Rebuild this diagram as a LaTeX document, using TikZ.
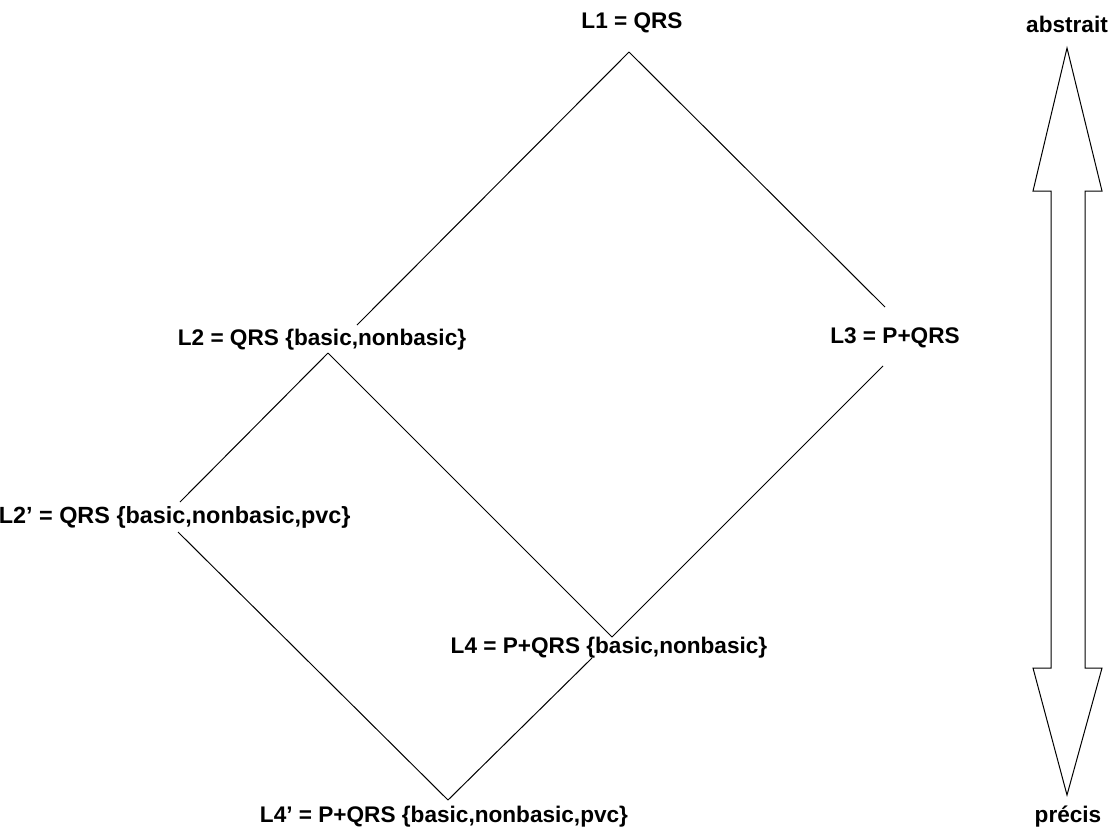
\documentclass[tikz,border=0pt]{standalone}
\usepackage{fontspec}
\setmainfont{Liberation Sans}
\begin{document}
\begin{tikzpicture}[x=0.5pt,y=-0.5pt,
  lbl/.style={font=\bfseries\fontsize{11.3}{13}\selectfont, inner sep=0pt, anchor=base},
  widelbl/.style={lbl, font=\bfseries\fontsize{11.7}{13}\selectfont},
  edge/.style={line width=0.5pt, black}]
\useasboundingbox (0,0) rectangle (1113,831);
% labels
\node[lbl] (l1) at (632,28) {L1 = QRS};
\node[lbl] (l2) at (322,345) {L2 = QRS \{basic,nonbasic\}};
\node[lbl] (l3) at (895,343) {L3 = P+QRS};
\node[widelbl, anchor=base east] (l2p) at (351,523) {L2’ = QRS \{basic,nonbasic,pvc\}};
\node[lbl] (l4) at (609,653) {L4 = P+QRS \{basic,nonbasic\}};
\node[lbl] (l4p) at (444,822) {L4’ = P+QRS \{basic,nonbasic,pvc\}};
\node[lbl] (abs) at (1067,32) {abstrait};
\node[lbl] (pre) at (1068,822) {précis};
% connector ends
\coordinate (l1b) at (629,52);
\coordinate (l2t) at (357,325);
\coordinate (l2b) at (328,353);
\coordinate (l3t) at (885,307);
\coordinate (l3b) at (883,366);
\coordinate (l2pt) at (180,502);
\coordinate (l2pb) at (178,532);
\coordinate (l4t) at (612,637);
\coordinate (l4b) at (592,658);
\coordinate (l4pt) at (448,800);
% connectors
\draw[edge] (l1b) -- (l2t);
\draw[edge] (l1b) -- (l3t);
\draw[edge] (l2b) -- (l2pt);
\draw[edge] (l2b) -- (l4t);
\draw[edge] (l3b) -- (l4t);
\draw[edge] (l2pb) -- (l4pt);
\draw[edge] (l4b) -- (l4pt);
% double arrow
\draw[edge] (1067,48) -- (1102,191) -- (1085,191) -- (1085,668) -- (1102,668)
  -- (1067,795) -- (1033,668) -- (1051,668) -- (1051,191) -- (1033,191) -- cycle;
\end{tikzpicture}
\end{document}
